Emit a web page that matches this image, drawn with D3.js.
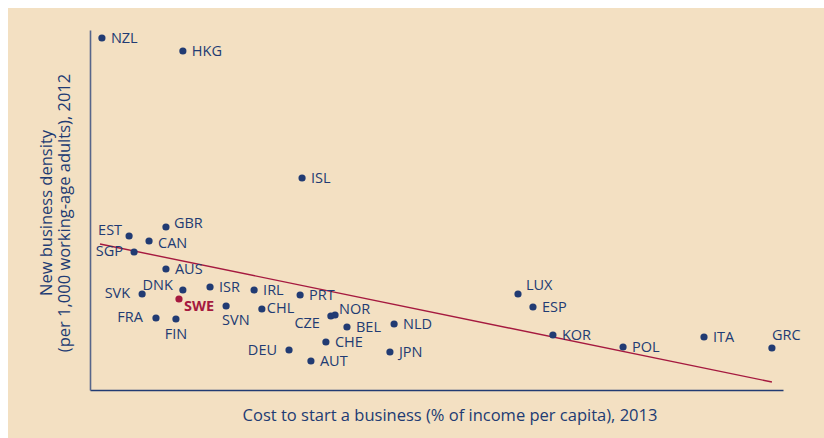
<!DOCTYPE html>
<html>
<head>
<meta charset="utf-8">
<script src="https://cdn.jsdelivr.net/npm/d3@7"></script>
<style>
  body { margin:0; background:#fff; }
  svg { display:block; }
</style>
</head>
<body>
<svg id="chart"></svg>
<script>

//country codes
var countries = ["NZL","HKG","ISL","EST","GBR","CAN","SGP","AUS","DNK","ISR","IRL","SVK","SWE","SVN","CHL","FRA","FIN",
	"PRT","CZE","NOR","BEL","NLD","CHE","DEU","AUT","JPN","LUX","ESP","KOR","POL","ITA","GRC"];

//cost to start a business (% of income per capita), 2013
var costValues = [0.43,3.35,7.65,1.41,2.74,2.13,1.59,2.74,3.35,4.33,5.92,1.88,3.21,4.91,6.2,2.38,3.1,
	7.58,8.69,8.84,9.27,10.97,8.51,7.18,7.97,10.82,15.44,15.98,16.7,19.23,22.15,24.6];

//new business density (per 1,000 working-age adults), 2012
var densityValues = [17.6,16.95,10.6,7.7,8.15,7.45,6.9,6.05,5.0,5.15,5.0,4.8,4.55,4.2,4.05,3.6,3.55,
	4.75,3.7,3.75,3.15,3.3,2.4,2.0,1.45,1.9,4.8,4.15,2.75,2.15,2.65,2.1];

//trend line end points [cost, density]
var trendLine = [[0.36,7.3],[24.6,0.4]];

var highlight = "SWE";

var xTitle = "Cost to start a business (% of income per capita), 2013";
var yTitle = ["New business density", "(per 1,000 working-age adults), 2012"];


var width = 824, height = 438;
var navy = "#213b73", red = "#a5193f";

//label placement, default is right of the dot
var labelPos = {
	EST:["end",-7,-6], SGP:["end",-11,-1], DNK:["end",-10,-5], SVK:["end",-12,-1],
	FRA:["end",-13,-1], DEU:["end",-12,0], CZE:["end",-11,7], SVN:["start",-4,14],
	FIN:["middle",0,15], GRC:["start",0,-13], SWE:["start",5,7], GBR:["start",8,-4],
	CAN:["start",9,2], NOR:["start",4,-6], LUX:["start",8,-9], CHL:["start",5,-1]
};

var data = countries.map(function(d,i){
	return {code:d, cost:costValues[i], density:densityValues[i]};
});

var svg = d3.select("#chart")
	.attr("width", width)
	.attr("height", height);

//background panel
svg.append("rect")
	.attr("x", 8)
	.attr("y", 8)
	.attr("width", width-8)
	.attr("height", height-8)
	.attr("fill", "#f3e0c2");

//scales
var x = d3.scaleLinear()
	.domain([0,25])
	.range([90,783]);

var y = d3.scaleLinear()
	.domain([0,18])
	.range([390,30]);

//axes, no ticks
svg.append("g")
	.attr("transform", "translate(0," + y(0) + ")")
	.call(d3.axisBottom(x).ticks(0).tickSize(0))
	.select(".domain")
	.style("stroke", navy)
	.style("stroke-width", "1.6px");

svg.append("g")
	.attr("transform", "translate(" + x(0) + ",0)")
	.call(d3.axisLeft(y).ticks(0).tickSize(0))
	.select(".domain")
	.style("stroke", "#56658a")
	.style("stroke-width", "1.6px");

//axis titles
svg.append("text")
	.attr("x", 450)
	.attr("y", 421)
	.attr("text-anchor", "middle")
	.style("font", "16.5px 'Open Sans'")
	.style("fill", navy)
	.text(xTitle);

svg.selectAll("text.ytitle")
	.data(yTitle)
	.enter()
	.append("text")
	.attr("class","ytitle")
	.attr("transform", function(d,i){
		return "translate(" + (52 + i*18) + ",213) rotate(-90)";
	})
	.attr("text-anchor", "middle")
	.style("font", "16.5px 'Open Sans'")
	.style("fill", navy)
	.text(function(d){ return d; });

//trend line
svg.append("path")
	.datum(trendLine)
	.attr("d", d3.line()
		.x(function(d){ return x(d[0]); })
		.y(function(d){ return y(d[1]); }))
	.style("stroke", red)
	.style("stroke-width", "1.4px")
	.style("fill", "none");

//dots
svg.selectAll("circle.dot")
	.data(data)
	.enter()
	.append("circle")
	.attr("class","dot")
	.attr("cx", function(d){ return x(d.cost); })
	.attr("cy", function(d){ return y(d.density); })
	.attr("r", 3.6)
	.attr("fill", function(d){ return d.code==highlight ? red : navy; });

//labels
svg.selectAll("text.lab")
	.data(data)
	.enter()
	.append("text")
	.attr("class","lab")
	.attr("x", function(d){
		var p = labelPos[d.code] || ["start",9,0];
		return x(d.cost) + p[1];
	})
	.attr("y", function(d){
		var p = labelPos[d.code] || ["start",9,0];
		return y(d.density) + p[2];
	})
	.attr("dy", ".36em")
	.attr("text-anchor", function(d){
		var p = labelPos[d.code] || ["start",9,0];
		return p[0];
	})
	.style("font", function(d){
		return (d.code==highlight ? "bold " : "") + "14.5px 'Open Sans'";
	})
	.style("fill", function(d){ return d.code==highlight ? red : navy; })
	.text(function(d){ return d.code; });

</script>
</body>
</html>
